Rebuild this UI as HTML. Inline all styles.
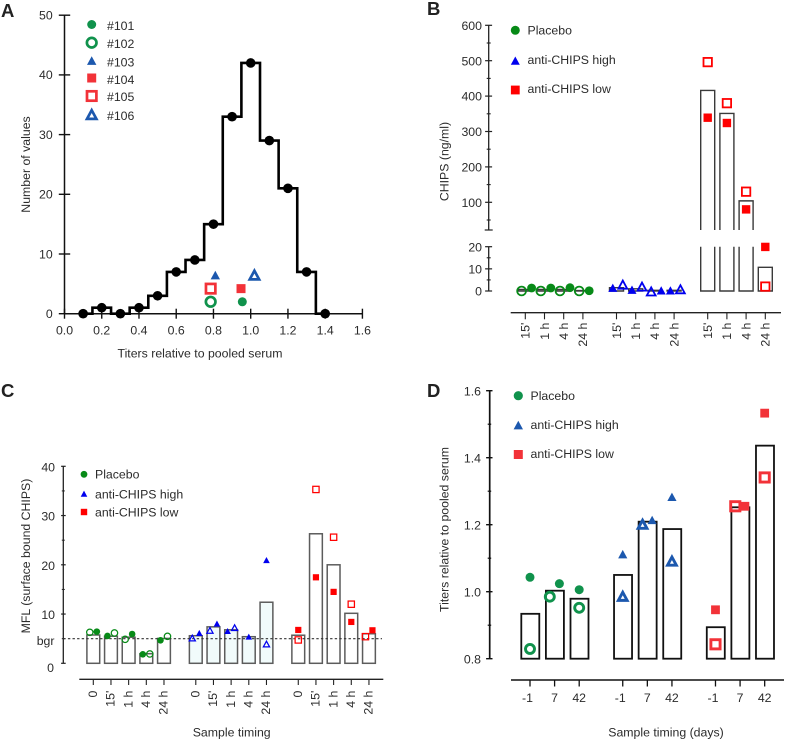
<!DOCTYPE html>
<html lang="en">
<head>
<meta charset="utf-8">
<title>Anti-CHIPS titers and CHIPS levels</title>
<style>
html,body{margin:0;padding:0;background:#fff;width:786px;height:741px;overflow:hidden}
svg{display:block;filter:blur(0.35px)}
text{font-family:"Liberation Sans",sans-serif;font-size:12.3px;fill:#2b2b2b}
.letter{font-size:18.5px;font-weight:bold;fill:#222}
</style>
</head>
<body>
<svg id="figure" width="786" height="741" viewBox="0 0 786 741" xmlns="http://www.w3.org/2000/svg">
  <rect x="0" y="0" width="786" height="741" fill="#fff"/>

  <g id="panel-a">
    <text class="letter" x="1" y="17">A</text>
    <text x="200" y="357.5" text-anchor="middle">Titers relative to pooled serum</text>
    <text transform="translate(30,164.5) rotate(-90)" text-anchor="middle">Number of values</text>
    <text x="107" y="30">#101</text>
    <text x="107" y="48">#102</text>
    <text x="107" y="66.5">#103</text>
    <text x="107" y="84">#104</text>
    <text x="107" y="101">#105</text>
    <text x="107" y="120">#106</text>
  </g>

  <g id="panel-b">
    <text class="letter" x="427" y="15">B</text>
    <text transform="translate(448.5,161.5) rotate(-90)" text-anchor="middle">CHIPS (ng/ml)</text>
    <text x="527.5" y="34.5">Placebo</text>
    <text x="527.5" y="64">anti-CHIPS high</text>
    <text x="527.5" y="93">anti-CHIPS low</text>
  </g>

  <g id="panel-c">
    <text class="letter" x="1" y="397">C</text>
    <text x="231.7" y="736.5" text-anchor="middle">Sample timing</text>
    <text transform="translate(30,556) rotate(-90)" text-anchor="middle">MFL (surface bound CHIPS)</text>
    <text x="95" y="478.5">Placebo</text>
    <text x="95" y="498.5">anti-CHIPS high</text>
    <text x="95" y="516.5">anti-CHIPS low</text>
    <text x="54.5" y="645" text-anchor="end">bgr</text>
  </g>

  <g id="panel-d">
    <text class="letter" x="427" y="397">D</text>
    <text x="666" y="736.5" text-anchor="middle">Sample timing (days)</text>
    <text transform="translate(448.5,529.5) rotate(-90)" text-anchor="middle">Titers relative to pooled serum</text>
    <text x="530.5" y="400">Placebo</text>
    <text x="530.5" y="429">anti-CHIPS high</text>
    <text x="530.5" y="458">anti-CHIPS low</text>
  </g>
</svg>

<script>
// ---------- Panel A data ----------
const aBinCenters = [0.1, 0.2, 0.3, 0.4, 0.5, 0.6, 0.7, 0.8, 0.9, 1.0, 1.1, 1.2, 1.3, 1.4];
const aBinCounts = [0, 1, 0, 1, 3, 7, 9, 15, 33, 42, 29, 21, 7, 0];
const aSubjectIds = ['101', '102', '103', '104', '105', '106'];
const aSubjectTiters = [0.955, 0.785, 0.81, 0.948, 0.785, 1.02];
const aSubjectCounts = [2, 2, 6.4, 4.2, 4.2, 6.4];
const aXTicks = [0, 0.2, 0.4, 0.6, 0.8, 1.0, 1.2, 1.4, 1.6];
const aYTicks = [0, 10, 20, 30, 40, 50];

// ---------- Panel B data ----------
const bTimeLabels = ["15'", '1 h', '4 h', '24 h'];
const bBarsPlacebo = [0.7, 0.7, 0.7, 0.2];
const bBarsHigh = [1.5, 1, 0.3, 0.3];
const bBarsLow = [416, 351, 104, 10.7];
const bPlaceboClosed = [1.35, 1.35, 1.5, 0.1];
const bPlaceboOpen = [0, 0, 0, 0];
const bHighClosed = [1.3, 0.4, 0.1, 0.1];
const bHighOpen = [2.7, 1.8, -0.4, 0.6];
const bLowClosed = [339, 324, 80, 19.9];
const bLowOpen = [496, 380, 130, 2];
const bUpperMajorTicks = [100, 200, 300, 400, 500, 600];
const bUpperMinorTicks = [50, 150, 250, 350, 450, 550];
const bLowerMajorTicks = [0, 10, 20];
const bLowerMinorTicks = [5, 15];

// ---------- Panel C data ----------
const cTimeLabels = ['0', "15'", '1 h', '4 h', '24 h'];
const cBarsPlacebo = [5.75, 5.5, 5.3, 1.95, 5.05];
const cBarsHigh = [5.6, 7.4, 6.8, 5.4, 12.4];
const cBarsLow = [5.7, 26.3, 20, 10.15, 6.0];
const cPlaceboClosed = [6.43, 5.55, 5.95, 1.83, 4.67];
const cPlaceboOpen = [6.3, 6.16, 4.87, 1.9, 5.48];
const cHighClosed = [6.1, 8.0, 6.5, 5.35, 20.9];
const cHighOpen = [5.08, 6.63, 7.17, null, 3.86];
const cLowClosed = [6.77, 17.46, 14.5, 8.4, 6.7];
const cLowOpen = [4.74, 35.3, 25.6, 12, 5.41];
const cBackgroundLevel = 5;
const cMajorTicks = [0, 10, 20, 30, 40];
const cMinorTicks = [5, 15, 25, 35];

// ---------- Panel D data ----------
const dTimeLabels = ['-1', '7', '42'];
const dBarsPlacebo = [0.934, 1.003, 0.979];
const dBarsHigh = [1.05, 1.209, 1.187];
const dBarsLow = [0.894, 1.252, 1.436];
const dPlaceboClosed = [1.043, 1.024, 1.006];
const dPlaceboOpen = [0.829, 0.985, 0.952];
const dHighClosed = [1.111, 1.213, 1.282];
const dHighOpen = [0.985, 1.2, 1.09];
const dLowClosed = [0.946, 1.255, 1.533];
const dLowOpen = [0.843, 1.255, 1.341];
const dMajorTicks = [0.8, 1.0, 1.2, 1.4, 1.6];
const dMinorTicks = [0.9, 1.1, 1.3, 1.5];

// ---------- Drawing helpers ----------
const NS = 'http://www.w3.org/2000/svg';
const panels = {
  a: document.getElementById('panel-a'),
  b: document.getElementById('panel-b'),
  c: document.getElementById('panel-c'),
  d: document.getElementById('panel-d')
};

function make(parent, tag, name, props) {
  const el = document.createElementNS(NS, tag);
  
  
  for (const k in props) el.setAttribute(k, props[k]);
  parent.appendChild(el);
  return el;
}
function line(parent, name, x1, y1, x2, y2, color, width) {
  return make(parent, 'line', name, {x1, y1, x2, y2, stroke: color, 'stroke-width': width});
}
function label(parent, name, x, y, str, anchor) {
  const el = make(parent, 'text', name, {x, y, 'text-anchor': anchor});
  el.textContent = str;
  return el;
}
function vLabel(parent, name, x, top, str) {
  const el = make(parent, 'text', name, {transform: 'translate(' + (x + 4.3) + ',' + top + ') rotate(-90)', 'text-anchor': 'end'});
  el.textContent = str;
  return el;
}
// kind: circle | tri | square; open markers have transparent centres
function marker(parent, name, kind, open, cx, cy, size, color, stroke) {
  const fill = open ? 'none' : color;
  const st = open ? {stroke: color, 'stroke-width': stroke} : {};
  if (kind === 'circle') {
    return make(parent, 'circle', name, Object.assign({cx, cy, r: size / 2, fill}, st));
  }
  if (kind === 'square') {
    return make(parent, 'rect', name, Object.assign({x: cx - size / 2, y: cy - size / 2, width: size, height: size, fill}, st));
  }
  const h = size * 0.92;
  const pts = cx + ',' + (cy - h * 0.55) + ' ' + (cx + size / 2) + ',' + (cy + h * 0.45) + ' ' + (cx - size / 2) + ',' + (cy + h * 0.45);
  return make(parent, 'polygon', name, Object.assign({points: pts, fill}, st));
}
function fmt1(v) { return v.toFixed(1); }

// Points in a category: when the pair would overlap vertically the lower
// one moves left and the higher one moves right.
function drawPair(parent, prefix, kind, closedVal, openVal, cx, yFn, cfg, color) {
  const hasOpen = openVal !== null && openVal !== undefined;
  const hasClosed = closedVal !== null && closedVal !== undefined;
  let closedX = cx, openX = cx;
  if (hasOpen && hasClosed) {
    const dist = Math.abs(yFn(closedVal) - yFn(openVal));
    if (dist < cfg.threshold) {
      const openLeft = openVal <= closedVal;
      openX = cx + cfg.shift + (openLeft ? -cfg.dodge : cfg.dodge);
      closedX = cx + cfg.shift + (openLeft ? cfg.dodge : -cfg.dodge);
    }
  }
  if (hasClosed) {
    marker(parent, prefix + '-closed', kind, false, closedX, yFn(closedVal), cfg.closed[kind], color, 0);
  }
  if (hasOpen) {
    marker(parent, prefix + '-open', kind, true, openX, yFn(openVal), cfg.open[kind], color, cfg.stroke);
  }
}

// ---------- Panel A ----------
(function () {
  const p = panels.a;
  const axisColor = '#111';
  const X = v => 64.5 + v * 186.2;
  const Y = v => 313.7 - v * 5.97;
  line(p, 'panel-a-y-axis', X(0), Y(50), X(0), Y(0), axisColor, 1.5);
  line(p, 'panel-a-x-axis', X(0), Y(0), X(1.6), Y(0), axisColor, 1.5);
  aYTicks.forEach(t => {
    line(p, 'panel-a-y-tick-' + t, X(0) - 5.7, Y(t), X(0) + 5.7, Y(t), axisColor, 1.4);
    label(p, 'panel-a-y-tick-label-' + t, 52.7, Y(t) + 4.3, String(t), 'end');
  });
  aXTicks.forEach(t => {
    line(p, 'panel-a-x-tick-' + fmt1(t), X(t), Y(0) - 5, X(t), Y(0) + 5, axisColor, 1.4);
    label(p, 'panel-a-x-tick-label-' + fmt1(t), X(t), 334.5, fmt1(t), 'middle');
  });
  let d = 'M' + X(aBinCenters[0]) + ' ' + Y(aBinCounts[0]);
  aBinCenters.forEach((c, i) => {
    const halfBin = 0.05;
    if (i > 0) d += ' H' + X(c - halfBin) + ' V' + Y(aBinCounts[i]);
    d += ' H' + X(i === aBinCenters.length - 1 ? c : c + halfBin);
  });
  make(p, 'path', 'histogram-step-line', {d, fill: 'none', stroke: '#000', 'stroke-width': 2.6});
  aBinCenters.forEach((c, i) => {
    marker(p, 'histogram-point-' + fmt1(c), 'circle', false, X(c), Y(aBinCounts[i]), 9.6, '#000', 0);
  });
  const green = '#10924c', blue = '#1c58ae', red = '#f23238';
  const styles = [
    ['circle', false, 9, green], ['circle', true, 9.6, green], ['tri', false, 9.4, blue],
    ['square', false, 9, red], ['square', true, 9.4, red], ['tri', true, 9.4, blue]
  ];
  const legendRowY = [24.5, 42.7, 61, 78, 96, 115];
  aSubjectIds.forEach((id, i) => {
    const s = styles[i];
    marker(p, 'subject-' + id + '-point', s[0], s[1], X(aSubjectTiters[i]), Y(aSubjectCounts[i]), s[2], s[3], 2.7);
    marker(p, 'legend-marker-' + id, s[0], s[1], 91.7, legendRowY[i], s[2], s[3], 2.7);
  });
})();

// ---------- Panel B ----------
(function () {
  const p = panels.b;
  const axisColor = '#222', barColor = '#3a3a3a';
  const axisX = 488.7;
  const breakTop = 230, lowerTop = 246.7, zeroY = 291;
  const Y = v => v > 20.5 ? 202.3 - (v - 100) * 0.354 : zeroY - v * 2.215;
  const step = 19.2;
  const XT = (g, c) => 525.3 + (g * 4.75 + c) * step;
  line(p, 'panel-b-y-axis-upper', axisX, Y(600), axisX, breakTop, axisColor, 1.3);
  line(p, 'panel-b-y-axis-lower', axisX, lowerTop, axisX, zeroY, axisColor, 1.3);
  line(p, 'panel-b-axis-break-cap', axisX - 4, breakTop, axisX + 4, breakTop, axisColor, 1.2);
  bUpperMajorTicks.concat(bLowerMajorTicks).forEach(t => {
    line(p, 'panel-b-y-tick-' + t, axisX - 3.6, Y(t), axisX + 3.4, Y(t), axisColor, 1.2);
    label(p, 'panel-b-y-tick-label-' + t, 482, Y(t) + 4.6, String(t), 'end');
  });
  bUpperMinorTicks.concat(bLowerMinorTicks).forEach(t => {
    line(p, 'panel-b-y-minor-tick-' + t, axisX - 2, Y(t), axisX + 2, Y(t), axisColor, 1.1);
  });
  line(p, 'panel-b-x-axis', 510.7, 312.7, 781, 312.7, axisColor, 1.3);
  const halfBar = 7;
  [bBarsPlacebo, bBarsHigh, bBarsLow].forEach((bars, g) => {
    bars.forEach((v, c) => {
      const cx = XT(g, c), x0 = cx - halfBar, x1 = cx + halfBar;
      let d;
      if (v > 20) {
        d = 'M' + x0 + ' ' + breakTop + ' V' + Y(v) + ' H' + x1 + ' V' + breakTop +
            ' M' + x0 + ' ' + lowerTop + ' V' + zeroY + ' H' + x1 + ' V' + lowerTop;
      } else {
        d = 'M' + x0 + ' ' + zeroY + ' V' + Y(v) + ' H' + x1 + ' V' + zeroY + ' Z';
      }
      make(p, 'path', 'panel-b-bar-g' + g + '-' + c, {d, fill: 'none', stroke: barColor, 'stroke-width': 1.4});
    });
  });
  const green = '#078a17', blue = '#0000ee', red = '#ff0000';
  const cfg = {threshold: 8, dodge: 5, shift: 1.3, closed: {circle: 8.8, tri: 9, square: 8.4}, open: {circle: 8.8, tri: 8.8, square: 8.4}, stroke: 1.8};
  const groups = [
    ['circle', bPlaceboClosed, bPlaceboOpen, green],
    ['tri', bHighClosed, bHighOpen, blue],
    ['square', bLowClosed, bLowOpen, red]
  ];
  groups.forEach((grp, g) => {
    bTimeLabels.forEach((lab, c) => {
      const cx = XT(g, c);
      line(p, 'panel-b-x-tick-g' + g + '-' + c, cx, 312.7, cx, 319.3, axisColor, 1.1);
      vLabel(p, 'panel-b-x-tick-label-g' + g + '-' + c, cx, 322.7, lab);
      drawPair(p, 'panel-b-point-g' + g + '-' + c, grp[0], grp[1][c], grp[2][c], cx, Y, cfg, grp[3]);
    });
  });
  marker(p, 'panel-b-legend-marker-placebo', 'circle', false, 515.3, 30.3, 9, green, 0);
  marker(p, 'panel-b-legend-marker-high', 'tri', false, 515.3, 61, 9, blue, 0);
  marker(p, 'panel-b-legend-marker-low', 'square', false, 515.3, 90, 8.8, red, 0);
})();

// ---------- Panel C ----------
(function () {
  const p = panels.c;
  const axisColor = '#222', barColor = '#5c5c5c';
  const axisX = 63.3;
  const Y = v => 663.3 - v * 4.925;
  const step = 17.67;
  const XT = (g, c) => 93.3 + (g * 5.8 + c) * step;
  line(p, 'panel-c-y-axis', axisX, Y(40), axisX, Y(0), axisColor, 1.3);
  cMajorTicks.forEach(t => {
    line(p, 'panel-c-y-tick-' + t, axisX - 2.2, Y(t), axisX + 2.4, Y(t), axisColor, 1.2);
    if (t > 0) label(p, 'panel-c-y-tick-label-' + t, 55, Y(t) + 5, String(t), 'end');
  });
  label(p, 'panel-c-y-tick-label-0', 54, Y(0) + 8.5, '0', 'end');
  cMinorTicks.forEach(t => {
    line(p, 'panel-c-y-minor-tick-' + t, axisX - 1.5, Y(t), axisX + 1.5, Y(t), axisColor, 1);
  });
  line(p, 'panel-c-x-axis', 79.3, 679.3, 383.3, 679.3, axisColor, 1.3);
  const halfBar = 6.4;
  [cBarsPlacebo, cBarsHigh, cBarsLow].forEach((bars, g) => {
    bars.forEach((v, c) => {
      make(p, 'rect', 'panel-c-bar-g' + g + '-' + c, {
        x: XT(g, c) - halfBar, y: Y(v), width: halfBar * 2, height: Y(0) - Y(v),
        fill: g === 1 ? '#f1fbfb' : '#fff', stroke: barColor, 'stroke-width': 1.5
      });
    });
  });
  make(p, 'line', 'panel-c-background-line', {
    x1: axisX, y1: Y(cBackgroundLevel), x2: 382, y2: Y(cBackgroundLevel),
    stroke: '#333', 'stroke-width': 1.1, 'stroke-dasharray': '2.4 2.2'
  });
  const green = '#078a17', blue = '#0000ee', red = '#ff0000';
  const cfg = {threshold: 8, dodge: 3.5, shift: 0, closed: {circle: 6.6, tri: 6.6, square: 6.2}, open: {circle: 6.4, tri: 6.2, square: 6.3}, stroke: 1.25};
  const groups = [
    ['circle', cPlaceboClosed, cPlaceboOpen, green],
    ['tri', cHighClosed, cHighOpen, blue],
    ['square', cLowClosed, cLowOpen, red]
  ];
  groups.forEach((grp, g) => {
    cTimeLabels.forEach((lab, c) => {
      const cx = XT(g, c);
      line(p, 'panel-c-x-tick-g' + g + '-' + c, cx, 679.3, cx, 685, axisColor, 1.1);
      vLabel(p, 'panel-c-x-tick-label-g' + g + '-' + c, cx - 0.6, 690.7, lab);
      drawPair(p, 'panel-c-point-g' + g + '-' + c, grp[0], grp[1][c], grp[2][c], cx, Y, cfg, grp[3]);
    });
  });
  marker(p, 'panel-c-legend-marker-placebo', 'circle', false, 84, 474.3, 6.8, green, 0);
  marker(p, 'panel-c-legend-marker-high', 'tri', false, 84, 494, 6.6, blue, 0);
  marker(p, 'panel-c-legend-marker-low', 'square', false, 84, 512, 6.4, red, 0);
})();

// ---------- Panel D ----------
(function () {
  const p = panels.d;
  const axisColor = '#111';
  const axisX = 489.7;
  const Y = v => 658.7 - (v - 0.8) * 335;
  const step = 24.6;
  const XT = (g, c) => 530 + (g * 3.77 + c) * step;
  line(p, 'panel-d-y-axis', axisX, Y(1.6), axisX, Y(0.8), axisColor, 1.7);
  dMajorTicks.forEach(t => {
    line(p, 'panel-d-y-tick-' + fmt1(t), axisX - 3.6, Y(t), axisX + 2.8, Y(t), axisColor, 1.4);
    label(p, 'panel-d-y-tick-label-' + fmt1(t), 481, Y(t) + 4.6, fmt1(t), 'end');
  });
  dMinorTicks.forEach(t => {
    line(p, 'panel-d-y-minor-tick-' + fmt1(t), axisX - 2, Y(t), axisX + 1.5, Y(t), axisColor, 1.2);
  });
  line(p, 'panel-d-x-axis', 511, 680, 784, 680, axisColor, 1.4);
  const halfBar = 9;
  [dBarsPlacebo, dBarsHigh, dBarsLow].forEach((bars, g) => {
    bars.forEach((v, c) => {
      make(p, 'rect', 'panel-d-bar-g' + g + '-' + c, {
        x: XT(g, c) - halfBar + 0.3, y: Y(v), width: halfBar * 2, height: Y(0.8) - Y(v),
        fill: 'none', stroke: '#111', 'stroke-width': 1.8
      });
    });
  });
  const green = '#10924c', blue = '#1c58ae', red = '#f23238';
  const cfg = {threshold: 15, dodge: 4.8, shift: 0, closed: {circle: 9, tri: 9.2, square: 8.8}, open: {circle: 9, tri: 8.8, square: 9.2}, stroke: 2.9};
  const groups = [
    ['circle', dPlaceboClosed, dPlaceboOpen, green],
    ['tri', dHighClosed, dHighOpen, blue],
    ['square', dLowClosed, dLowOpen, red]
  ];
  groups.forEach((grp, g) => {
    dTimeLabels.forEach((lab, c) => {
      const cx = XT(g, c);
      line(p, 'panel-d-x-tick-g' + g + '-' + c, cx, 680, cx, 686.5, axisColor, 1.3);
      const nudge = lab.charAt(0) === '-' ? -2.5 : 0;
      label(p, 'panel-d-x-tick-label-g' + g + '-' + c, cx + nudge, 702, lab, 'middle');
      drawPair(p, 'panel-d-point-g' + g + '-' + c, grp[0], grp[1][c], grp[2][c], cx, Y, cfg, grp[3]);
    });
  });
  marker(p, 'panel-d-legend-marker-placebo', 'circle', false, 518.3, 395.7, 9.2, green, 0);
  marker(p, 'panel-d-legend-marker-high', 'tri', false, 518.3, 425.5, 9.4, blue, 0);
  marker(p, 'panel-d-legend-marker-low', 'square', false, 518.3, 454.5, 9, red, 0);
})();
</script>
</body>
</html>
